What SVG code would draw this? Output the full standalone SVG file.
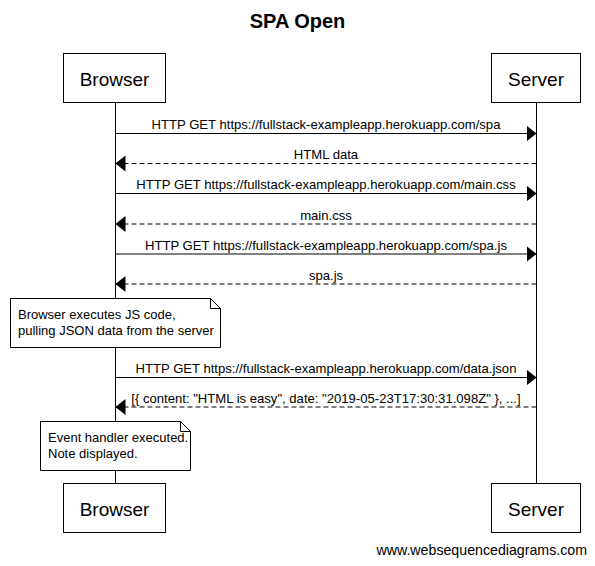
<svg xmlns="http://www.w3.org/2000/svg" width="595" height="566" viewBox="0 0 595 566">
<style>
text{font-family:"Liberation Sans",Arial,sans-serif;fill:#000}
.title{font-size:20px;font-weight:bold;text-anchor:middle}
.actor rect{fill:#fff;stroke:#000;stroke-width:1}
.actor text{font-size:19px;text-anchor:middle}
.life{stroke:#000;stroke-width:1;fill:none}
.msg{stroke:#000;stroke-width:1;fill:none}
.dash{stroke-dasharray:5,3}
.lbl{font-size:13.1px;text-anchor:middle}
.note path{fill:#fff;stroke:#000;stroke-width:1}
.note text{font-size:13px}
.wm{font-size:14.2px;text-anchor:end}
</style>
<defs>
<marker id="ah" markerWidth="10" markerHeight="17" refX="10" refY="8.5" orient="auto" markerUnits="userSpaceOnUse">
<path d="M0,0.5 L10,8.5 L0,16.5 Z" fill="#000"/>
</marker>
</defs>
<rect width="595" height="566" fill="#fff"/>
<text class="title" x="297.5" y="28">SPA Open</text>
<g id="lifelines">
<line class="life" x1="115.5" y1="102.5" x2="115.5" y2="483.5"/>
<line class="life" x1="536.5" y1="102.5" x2="536.5" y2="483.5"/>
</g>
<g id="browser-top" class="actor"><rect x="63.5" y="53.5" width="102" height="49"/><text x="114.5" y="86">Browser</text></g>
<g id="server-top" class="actor"><rect x="491.5" y="53.5" width="89" height="49"/><text x="536" y="86">Server</text></g>
<g id="browser-bottom" class="actor"><rect x="63.5" y="483.5" width="102" height="49"/><text x="114.5" y="516">Browser</text></g>
<g id="server-bottom" class="actor"><rect x="491.5" y="483.5" width="89" height="49"/><text x="536" y="516">Server</text></g>
<g id="connectors">
<line class="msg" x1="115.5" y1="133.5" x2="536.5" y2="133.5" marker-end="url(#ah)"/>
<text class="lbl" x="326" y="129">HTTP GET https://fullstack-exampleapp.herokuapp.com/spa</text>
<line class="msg dash" x1="536.5" y1="163.5" x2="115.5" y2="163.5" marker-end="url(#ah)"/>
<text class="lbl" x="326" y="159">HTML data</text>
<line class="msg" x1="115.5" y1="193.5" x2="536.5" y2="193.5" marker-end="url(#ah)"/>
<text class="lbl" x="326" y="189">HTTP GET https://fullstack-exampleapp.herokuapp.com/main.css</text>
<line class="msg dash" x1="536.5" y1="224" x2="115.5" y2="224" marker-end="url(#ah)"/>
<text class="lbl" x="326" y="219.5">main.css</text>
<line class="msg" x1="115.5" y1="254" x2="536.5" y2="254" marker-end="url(#ah)"/>
<text class="lbl" x="326" y="249.5">HTTP GET https://fullstack-exampleapp.herokuapp.com/spa.js</text>
<line class="msg dash" x1="536.5" y1="284" x2="115.5" y2="284" marker-end="url(#ah)"/>
<text class="lbl" x="326" y="279.5">spa.js</text>
<line class="msg" x1="115.5" y1="377.5" x2="536.5" y2="377.5" marker-end="url(#ah)"/>
<text class="lbl" x="326" y="373">HTTP GET https://fullstack-exampleapp.herokuapp.com/data.json</text>
<line class="msg dash" x1="536.5" y1="407" x2="115.5" y2="407" marker-end="url(#ah)"/>
<text class="lbl" x="326" y="402.5">[{ content: "HTML is easy", date: "2019-05-23T17:30:31.098Z" }, ...]</text>
</g>
<g id="note1" class="note">
<path d="M10.5,298.5 H210.5 L220.5,308.5 V347.5 H10.5 Z M210.5,298.5 V308.5 H220.5"/>
<text x="18" y="319">Browser executes JS code,</text>
<text x="18" y="335">pulling JSON data from the server</text>
</g>
<g id="note2" class="note">
<path d="M40.5,421.5 H180.5 L190.5,431.5 V470.5 H40.5 Z M180.5,421.5 V431.5 H190.5"/>
<text x="48" y="442">Event handler executed.</text>
<text x="48" y="458">Note displayed.</text>
</g>
<text class="wm" x="587" y="555">www.websequencediagrams.com</text>
</svg>
